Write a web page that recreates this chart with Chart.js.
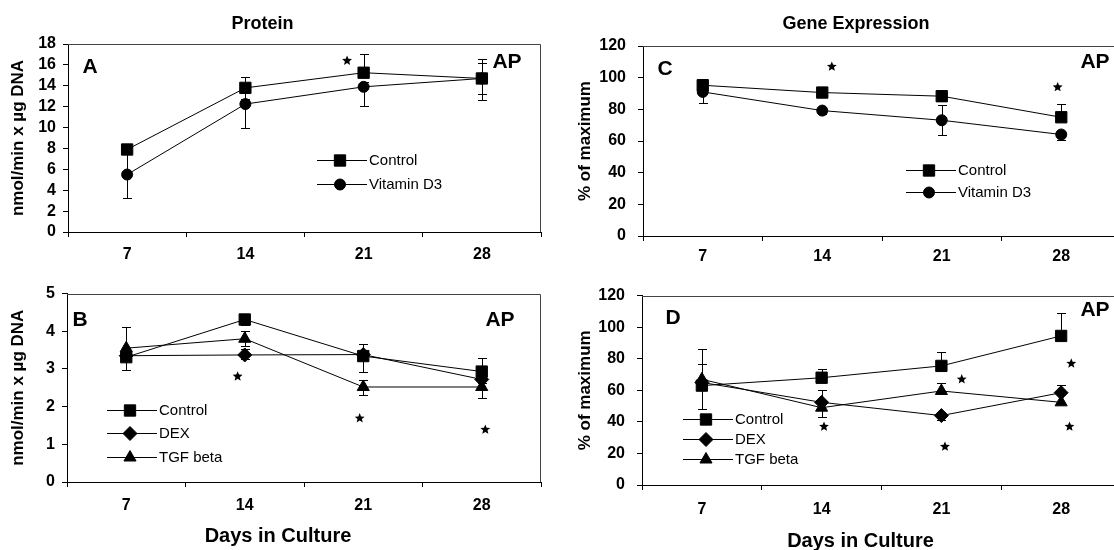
<!DOCTYPE html>
<html>
<head>
<meta charset="utf-8">
<script src="https://cdn.jsdelivr.net/npm/chart.js@4.4.1/dist/chart.umd.min.js"></script>
<style>
  html, body { margin: 0; padding: 0; background: #fff; overflow: hidden; width: 1114px; height: 550px; }
  canvas { position: absolute; }
</style>
</head>
<body>
<canvas id="chartA" width="557" height="270" style="left:0;top:0"></canvas>
<canvas id="chartC" width="580" height="270" style="left:557px;top:0"></canvas>
<canvas id="chartB" width="557" height="290" style="left:0;top:260px"></canvas>
<canvas id="chartD" width="580" height="300" style="left:557px;top:260px"></canvas>
<script>
const days = ["7", "14", "21", "28"];

// A - protein, vitamin D3
const aControl = [7.9, 13.8, 15.25, 14.7];
const aControlUp = [0.3, 1.0, 1.8, 1.9];
const aControlDown = [0, 1.1, 0, 2.1];
const aVitD3 = [5.5, 12.25, 13.9, 14.7];
const aVitD3Up = [2.2, 0.5, 0.5, 1.5];
const aVitD3Down = [2.25, 2.25, 1.85, 1.5];
const aStarX = [1.86];
const aStarY = [16.4];

// B - protein, DEX / TGF beta
const bControl = [3.31, 4.31, 3.34, 2.93];
const bControlUp = [0.2, 0.15, 0.33, 0.37];
const bControlDown = [0.33, 0.15, 0.41, 0.3];
const bDex = [3.35, 3.37, 3.38, 2.72];
const bDexUp = [0.1, 0.15, 0.1, 0.1];
const bDexDown = [0.1, 0.1, 0.1, 0.1];
const bTgf = [3.55, 3.8, 2.52, 2.52];
const bTgfUp = [0.57, 0.2, 0.19, 0.2];
const bTgfDown = [0.2, 0.2, 0.21, 0.29];
const bStarX = [0.94, 1.97, 3.03];
const bStarY = [2.8, 1.69, 1.39];

// C - gene expression, vitamin D3
const cControl = [95.2, 90.6, 88.3, 75];
const cControlUp = [4, 3, 3, 8.2];
const cControlDown = [0, 3, 3, 0];
const cVitD3 = [91, 79.2, 73.1, 64.1];
const cVitD3Up = [0, 0, 9.5, 0];
const cVitD3Down = [7, 2, 9.5, 3.6];
const cStarX = [1.08, 2.97];
const cStarY = [107, 94];

// D - gene expression, DEX / TGF beta
const dControl = [63, 68, 75.5, 94.5];
const dControlUp = [14, 5.8, 9, 14.5];
const dControlDown = [15, 0, 0, 0];
const dDex = [65, 52.4, 44, 58.5];
const dDexUp = [0, 7.6, 2.5, 4.9];
const dDexDown = [0, 0, 2.5, 0];
const dTgf = [67, 49, 59.6, 52.4];
const dTgfUp = [19, 0, 5, 0];
const dTgfDown = [0, 5.7, 0, 0];
const dStarX = [1.02, 2.17, 2.03, 3.085, 3.07];
const dStarY = [37, 67, 24.3, 77, 37];

const FONT = '"Liberation Sans", Arial, sans-serif';
const MARKERS = {
  Control: { style: "rect", radius: 8 },
  "Vitamin D3": { style: "circle", radius: 5.5 },
  DEX: { style: "rectRot", radius: 7 },
  "TGF beta": { style: "triangle", radius: 7 },
};

function drawStar(ctx, cx, cy) {
  ctx.beginPath();
  for (let k = 0; k < 10; k++) {
    const ang = -Math.PI / 2 + (k * Math.PI) / 5;
    const r = k % 2 ? 2.3 : 5.2;
    ctx.lineTo(cx + r * Math.cos(ang), cy + r * Math.sin(ang));
  }
  ctx.closePath();
  ctx.fill();
}

// error bars, stars, frame, letters and legend for one panel
function extrasPlugin(p) {
  return {
    id: "extras",
    beforeDatasetsDraw(chart) {
      const { ctx, scales: { x, y } } = chart;
      ctx.save();
      ctx.strokeStyle = "#000";
      ctx.lineWidth = 1;
      p.series.forEach((s) => {
        s.data.forEach((v, i) => {
          const px = Math.round(x.getPixelForValue(i)) + 0.5;
          [[s.up[i], 1], [s.down[i], -1]].forEach(([e, sign]) => {
            if (!e) return;
            const y0 = y.getPixelForValue(v);
            const y1 = Math.round(y.getPixelForValue(v + sign * e)) + 0.5;
            ctx.beginPath();
            ctx.moveTo(px, y0);
            ctx.lineTo(px, y1);
            ctx.moveTo(px - 4.5, y1);
            ctx.lineTo(px + 4.5, y1);
            ctx.stroke();
          });
        });
      });
      ctx.restore();
    },
    afterDraw(chart) {
      const { ctx, chartArea: a, scales: { x, y } } = chart;
      ctx.save();
      // frame top / right
      ctx.strokeStyle = "#444";
      ctx.lineWidth = 1;
      ctx.beginPath();
      ctx.moveTo(a.left, Math.round(a.top) + 0.5);
      ctx.lineTo(Math.round(a.right) - 0.5, Math.round(a.top) + 0.5);
      ctx.lineTo(Math.round(a.right) - 0.5, a.bottom);
      ctx.stroke();

      ctx.fillStyle = "#000";
      p.starX.forEach((sx, i) => drawStar(ctx, x.getPixelForValue(sx), y.getPixelForValue(p.starY[i])));

      ctx.textAlign = "center";
      ctx.textBaseline = "middle";
      ctx.font = "bold 21px " + FONT;
      ctx.fillText(p.letter, a.left + p.letterPos[0], a.top + p.letterPos[1]);
      ctx.fillText("AP", a.right + p.apPos[0], a.top + p.apPos[1]);

      const cx = (a.left + a.right) / 2;
      if (p.title) {
        ctx.font = "bold 18px " + FONT;
        ctx.fillText(p.title, cx + p.titlePos[0], a.top + p.titlePos[1]);
      }
      if (p.xTitle) {
        ctx.font = "bold 20px " + FONT;
        ctx.fillText(p.xTitle, cx + p.xTitlePos[0], a.bottom + p.xTitlePos[1]);
      }

      // legend
      ctx.font = "15px " + FONT;
      ctx.textAlign = "left";
      ctx.strokeStyle = "#000";
      p.series.forEach((s, i) => {
        const lx = a.left + p.legendPos[0];
        const ly = Math.round(a.top + p.legendPos[1] + i * p.legendGap) + 0.5;
        ctx.beginPath();
        ctx.moveTo(lx, ly);
        ctx.lineTo(lx + 50, ly);
        ctx.stroke();
        const m = MARKERS[s.label];
        Chart.helpers.drawPoint(ctx, { pointStyle: m.style, radius: m.radius, borderWidth: 1, rotation: 0 }, lx + 23, ly);
        ctx.fillText(s.label, lx + 52, ly);
      });
      ctx.restore();
    },
  };
}

function makeChart(id, p) {
  const tickFont = { family: FONT, size: 16, weight: "bold" };
  return new Chart(document.getElementById(id), {
    type: "line",
    data: {
      labels: days,
      datasets: p.series.map((s) => ({
        label: s.label,
        data: s.data,
        borderColor: "#000",
        backgroundColor: "#000",
        borderWidth: 1,
        pointStyle: MARKERS[s.label].style,
        pointRadius: MARKERS[s.label].radius,
        pointBorderWidth: 1,
        pointBorderColor: "#000",
        pointBackgroundColor: "#000",
      })),
    },
    options: {
      responsive: false,
      animation: false,
      layout: { padding: { top: p.padTop, right: p.padRight, left: 0, bottom: 0 } },
      plugins: { legend: { display: false }, tooltip: { enabled: false } },
      scales: {
        x: {
          offset: true,
          grid: { offset: true, drawOnChartArea: false, color: "#000", tickLength: 5 },
          border: { color: "#000", width: 1 },
          ticks: { font: tickFont, color: "#000", padding: p.xPad, maxRotation: 0, autoSkip: false },
          afterFit(s) { s.height = p.xHeight; },
        },
        y: {
          min: 0,
          max: p.yMax,
          grid: { drawOnChartArea: false, color: "#000", tickLength: 5 },
          border: { color: "#000", width: 1 },
          ticks: { stepSize: p.yStep, font: tickFont, color: "#000", padding: p.yPad, autoSkip: false },
          title: {
            display: true,
            text: p.yTitle,
            color: "#000",
            font: { family: FONT, size: 17, weight: "bold" },
            padding: { top: p.yTitlePad, bottom: 0 },
          },
          afterFit(s) { s.width = p.yWidth; },
        },
      },
    },
    plugins: [extrasPlugin(p)],
  });
}

makeChart("chartA", {
  series: [
    { label: "Control", data: aControl, up: aControlUp, down: aControlDown },
    { label: "Vitamin D3", data: aVitD3, up: aVitD3Up, down: aVitD3Down },
  ],
  starX: aStarX, starY: aStarY,
  yMax: 18, yStep: 2, yTitle: "nmol/min x µg DNA",
  padTop: 44, padRight: 16, yWidth: 68, xHeight: 38, xPad: 8, yPad: 7, yTitlePad: 8,
  letter: "A", letterPos: [22, 23], apPos: [-34, 18],
  title: "Protein", titlePos: [-42, -20],
  legendPos: [249, 116], legendGap: 24,
});

makeChart("chartC", {
  series: [
    { label: "Control", data: cControl, up: cControlUp, down: cControlDown },
    { label: "Vitamin D3", data: cVitD3, up: cVitD3Up, down: cVitD3Down },
  ],
  starX: cStarX, starY: cStarY,
  yMax: 120, yStep: 20, yTitle: "% of maximum",
  padTop: 46, padRight: 16, yWidth: 86, xHeight: 34, xPad: 6, yPad: 12, yTitlePad: 18,
  letter: "C", letterPos: [22, 23], apPos: [-26, 16],
  title: "Gene Expression", titlePos: [-26, -22],
  legendPos: [263, 124], legendGap: 22,
});

makeChart("chartB", {
  series: [
    { label: "Control", data: bControl, up: bControlUp, down: bControlDown },
    { label: "DEX", data: bDex, up: bDexUp, down: bDexDown },
    { label: "TGF beta", data: bTgf, up: bTgfUp, down: bTgfDown },
  ],
  starX: bStarX, starY: bStarY,
  yMax: 5, yStep: 1, yTitle: "nmol/min x µg DNA",
  padTop: 33.5, padRight: 16, yWidth: 67, xHeight: 68, xPad: 9, yPad: 7, yTitlePad: 8,
  letter: "B", letterPos: [13, 27], apPos: [-41, 27],
  xTitle: "Days in Culture", xTitlePos: [-26, 54],
  legendPos: [40, 116], legendGap: 23.5,
});

makeChart("chartD", {
  series: [
    { label: "Control", data: dControl, up: dControlUp, down: dControlDown },
    { label: "DEX", data: dDex, up: dDexUp, down: dDexDown },
    { label: "TGF beta", data: dTgf, up: dTgfUp, down: dTgfDown },
  ],
  starX: dStarX, starY: dStarY,
  yMax: 120, yStep: 20, yTitle: "% of maximum",
  padTop: 35.7, padRight: 16, yWidth: 85, xHeight: 75, xPad: 10, yPad: 12, yTitlePad: 18,
  letter: "D", letterPos: [31, 23], apPos: [-26, 15],
  xTitle: "Days in Culture", xTitlePos: [-21, 56],
  legendPos: [41, 123], legendGap: 20,
});
</script>
</body>
</html>
